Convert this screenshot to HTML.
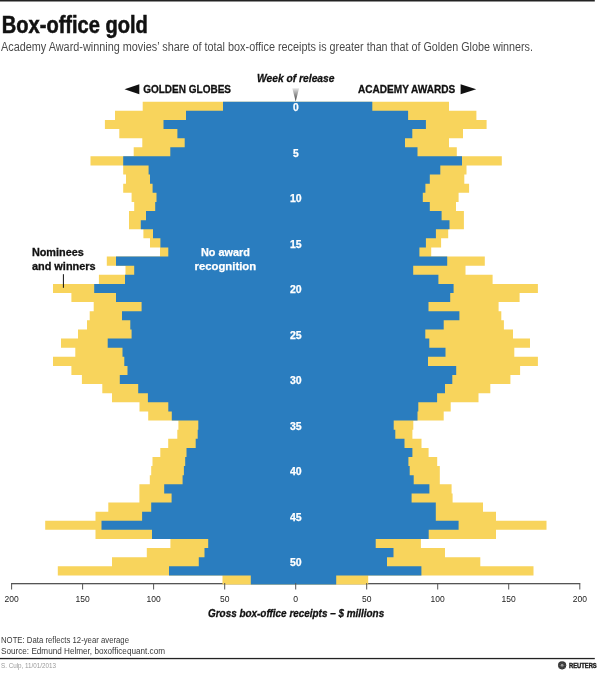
<!DOCTYPE html>
<html lang="en">
<head>
<meta charset="utf-8">
<title>Box-office gold</title>
<style>
html,body{margin:0;padding:0;background:#fff;}
body{width:611px;height:679px;overflow:hidden;}
svg{display:block;font-family:"Liberation Sans",sans-serif;}
</style>
</head>
<body>
<svg width="611" height="679" viewBox="0 0 611 679">
<rect x="0" y="0" width="611" height="679" fill="#fff"/>
<rect x="0" y="0" width="594.8" height="1.5" fill="#222"/>
<text x="1.8" y="33.4" font-size="23.6" font-weight="bold" font-style="normal" fill="#111" text-anchor="start" textLength="146" lengthAdjust="spacingAndGlyphs" stroke="#111" stroke-width="0.55">Box-office gold</text>
<text x="1" y="51.4" font-size="12" font-weight="normal" font-style="normal" fill="#4a4a4a" text-anchor="start" textLength="315" lengthAdjust="spacingAndGlyphs">Academy Award-winning movies&#8217; share of total box-office receipts</text>
<text x="318.8" y="51.4" font-size="12" font-weight="normal" font-style="normal" fill="#4a4a4a" text-anchor="start" textLength="214.2" lengthAdjust="spacingAndGlyphs">is greater than that of Golden Globe winners.</text>
<text x="257" y="81.5" font-size="11.5" font-weight="bold" font-style="italic" fill="#111" text-anchor="start" textLength="77.5" lengthAdjust="spacingAndGlyphs" stroke="#111" stroke-width="0.3">Week of release</text>
<defs><linearGradient id="pg" x1="0" y1="0" x2="0" y2="1"><stop offset="0" stop-color="#e4e4e4"/><stop offset="1" stop-color="#3a3a3a"/></linearGradient></defs>
<polygon points="292.3,88.3 299.1,88.3 295.7,101.6" fill="url(#pg)"/>
<polygon points="124.5,89.3 139.3,84.3 139.3,94.3" fill="#111"/>
<text x="143.2" y="93.4" font-size="11" font-weight="bold" font-style="normal" fill="#111" text-anchor="start" textLength="87.8" lengthAdjust="spacingAndGlyphs" stroke="#111" stroke-width="0.3">GOLDEN GLOBES</text>
<text x="358" y="93.4" font-size="11" font-weight="bold" font-style="normal" fill="#111" text-anchor="start" textLength="97.3" lengthAdjust="spacingAndGlyphs" stroke="#111" stroke-width="0.3">ACADEMY AWARDS</text>
<polygon points="476.2,89.3 460.6,84.3 460.6,94.3" fill="#111"/>
<rect x="11.1" y="583" width="569" height="1.3" fill="#555"/>
<g fill="#f8d45c">
<path d="M142.7,101.70 L142.7,110.81 L115.0,110.81 L115.0,119.92 L104.9,119.92 L104.9,129.03 L119.3,129.03 L119.3,138.14 L142.3,138.14 L142.3,147.25 L133.7,147.25 L133.7,156.36 L90.5,156.36 L90.5,165.47 L123.2,165.47 L123.2,174.58 L126.0,174.58 L126.0,183.69 L123.2,183.69 L123.2,192.80 L131.6,192.80 L131.6,201.91 L134.2,201.91 L134.2,211.02 L129.0,211.02 L129.0,220.13 L129.0,220.13 L129.0,229.24 L143.4,229.24 L143.4,238.35 L150.0,238.35 L150.0,247.46 L160.0,247.46 L160.0,256.57 L106.8,256.57 L106.8,265.68 L125.5,265.68 L125.5,274.79 L98.9,274.79 L98.9,283.90 L53.0,283.90 L53.0,293.01 L71.4,293.01 L71.4,302.12 L93.7,302.12 L93.7,311.23 L89.7,311.23 L89.7,320.34 L87.0,320.34 L87.0,329.45 L78.0,329.45 L78.0,338.56 L61.0,338.56 L61.0,347.67 L75.3,347.67 L75.3,356.78 L53.0,356.78 L53.0,365.89 L71.4,365.89 L71.4,375.00 L81.9,375.00 L81.9,384.11 L102.3,384.11 L102.3,393.22 L112.0,393.22 L112.0,402.33 L139.5,402.33 L139.5,411.44 L148.2,411.44 L148.2,420.55 L178.4,420.55 L178.4,429.66 L177.3,429.66 L177.3,438.77 L168.2,438.77 L168.2,447.88 L160.3,447.88 L160.3,456.99 L152.5,456.99 L152.5,466.10 L151.2,466.10 L151.2,475.21 L149.8,475.21 L149.8,484.32 L139.4,484.32 L139.4,493.43 L139.4,493.43 L139.4,502.54 L108.3,502.54 L108.3,511.65 L95.5,511.65 L95.5,520.76 L45.2,520.76 L45.2,529.87 L95.5,529.87 L95.5,538.98 L170.4,538.98 L170.4,548.09 L146.8,548.09 L146.8,557.20 L112.0,557.20 L112.0,566.31 L57.8,566.31 L57.8,575.42 L222.5,575.42 L222.5,584.53 L368.2,584.53 L368.2,575.42 L533.5,575.42 L533.5,566.31 L480.3,566.31 L480.3,557.20 L445.0,557.20 L445.0,548.09 L420.9,548.09 L420.9,538.98 L496.0,538.98 L496.0,529.87 L546.5,529.87 L546.5,520.76 L496.0,520.76 L496.0,511.65 L483.0,511.65 L483.0,502.54 L452.6,502.54 L452.6,493.43 L451.6,493.43 L451.6,484.32 L439.8,484.32 L439.8,475.21 L439.8,475.21 L439.8,466.10 L437.2,466.10 L437.2,456.99 L428.6,456.99 L428.6,447.88 L421.5,447.88 L421.5,438.77 L412.4,438.77 L412.4,429.66 L413.3,429.66 L413.3,420.55 L443.7,420.55 L443.7,411.44 L450.7,411.44 L450.7,402.33 L478.5,402.33 L478.5,393.22 L490.3,393.22 L490.3,384.11 L510.4,384.11 L510.4,375.00 L520.1,375.00 L520.1,365.89 L537.9,365.89 L537.9,356.78 L514.3,356.78 L514.3,347.67 L530.0,347.67 L530.0,338.56 L513.0,338.56 L513.0,329.45 L503.9,329.45 L503.9,320.34 L501.3,320.34 L501.3,311.23 L498.6,311.23 L498.6,302.12 L519.6,302.12 L519.6,293.01 L537.9,293.01 L537.9,283.90 L492.6,283.90 L492.6,274.79 L465.5,274.79 L465.5,265.68 L484.8,265.68 L484.8,256.57 L431.2,256.57 L431.2,247.46 L441.1,247.46 L441.1,238.35 L448.2,238.35 L448.2,229.24 L463.9,229.24 L463.9,220.13 L463.9,220.13 L463.9,211.02 L456.0,211.02 L456.0,201.91 L458.6,201.91 L458.6,192.80 L469.1,192.80 L469.1,183.69 L464.3,183.69 L464.3,174.58 L466.5,174.58 L466.5,165.47 L501.8,165.47 L501.8,156.36 L456.8,156.36 L456.8,147.25 L449.0,147.25 L449.0,138.14 L463.0,138.14 L463.0,129.03 L486.6,129.03 L486.6,119.92 L476.4,119.92 L476.4,110.81 L449.0,110.81 L449.0,101.70Z"/>
</g>
<g fill="#2a7dbf">
<path d="M223.0,101.70 L223.0,110.81 L186.0,110.81 L186.0,119.92 L163.5,119.92 L163.5,129.03 L177.4,129.03 L177.4,138.14 L184.7,138.14 L184.7,147.25 L170.3,147.25 L170.3,156.36 L123.2,156.36 L123.2,165.47 L148.6,165.47 L148.6,174.58 L150.0,174.58 L150.0,183.69 L152.6,183.69 L152.6,192.80 L156.5,192.80 L156.5,201.91 L155.2,201.91 L155.2,211.02 L146.0,211.02 L146.0,220.13 L140.8,220.13 L140.8,229.24 L153.0,229.24 L153.0,238.35 L160.4,238.35 L160.4,247.46 L168.3,247.46 L168.3,256.57 L116.0,256.57 L116.0,265.68 L134.2,265.68 L134.2,274.79 L125.0,274.79 L125.0,283.90 L94.2,283.90 L94.2,293.01 L116.0,293.01 L116.0,302.12 L141.6,302.12 L141.6,311.23 L122.0,311.23 L122.0,320.34 L130.3,320.34 L130.3,329.45 L131.6,329.45 L131.6,338.56 L107.7,338.56 L107.7,347.67 L122.5,347.67 L122.5,356.78 L124.3,356.78 L124.3,365.89 L127.5,365.89 L127.5,375.00 L119.8,375.00 L119.8,384.11 L138.2,384.11 L138.2,393.22 L147.9,393.22 L147.9,402.33 L168.3,402.33 L168.3,411.44 L171.8,411.44 L171.8,420.55 L198.3,420.55 L198.3,429.66 L197.7,429.66 L197.7,438.77 L195.7,438.77 L195.7,447.88 L186.5,447.88 L186.5,456.99 L185.2,456.99 L185.2,466.10 L183.9,466.10 L183.9,475.21 L182.6,475.21 L182.6,484.32 L164.2,484.32 L164.2,493.43 L171.6,493.43 L171.6,502.54 L151.2,502.54 L151.2,511.65 L142.1,511.65 L142.1,520.76 L101.5,520.76 L101.5,529.87 L152.0,529.87 L152.0,538.98 L208.2,538.98 L208.2,548.09 L204.5,548.09 L204.5,557.20 L198.8,557.20 L198.8,566.31 L169.0,566.31 L169.0,575.42 L250.8,575.42 L250.8,584.53 L336.2,584.53 L336.2,575.42 L421.4,575.42 L421.4,566.31 L387.0,566.31 L387.0,557.20 L393.5,557.20 L393.5,548.09 L375.7,548.09 L375.7,538.98 L428.7,538.98 L428.7,529.87 L458.6,529.87 L458.6,520.76 L435.8,520.76 L435.8,511.65 L435.8,511.65 L435.8,502.54 L411.6,502.54 L411.6,493.43 L429.4,493.43 L429.4,484.32 L413.7,484.32 L413.7,475.21 L409.7,475.21 L409.7,466.10 L408.4,466.10 L408.4,456.99 L412.4,456.99 L412.4,447.88 L404.5,447.88 L404.5,438.77 L395.3,438.77 L395.3,429.66 L393.7,429.66 L393.7,420.55 L417.5,420.55 L417.5,411.44 L418.3,411.44 L418.3,402.33 L437.1,402.33 L437.1,393.22 L445.0,393.22 L445.0,384.11 L452.3,384.11 L452.3,375.00 L456.2,375.00 L456.2,365.89 L428.0,365.89 L428.0,356.78 L445.5,356.78 L445.5,347.67 L429.3,347.67 L429.3,338.56 L425.3,338.56 L425.3,329.45 L443.7,329.45 L443.7,320.34 L459.4,320.34 L459.4,311.23 L428.5,311.23 L428.5,302.12 L450.2,302.12 L450.2,293.01 L453.6,293.01 L453.6,283.90 L438.4,283.90 L438.4,274.79 L413.2,274.79 L413.2,265.68 L447.2,265.68 L447.2,256.57 L419.4,256.57 L419.4,247.46 L425.9,247.46 L425.9,238.35 L435.9,238.35 L435.9,229.24 L449.5,229.24 L449.5,220.13 L441.6,220.13 L441.6,211.02 L429.8,211.02 L429.8,201.91 L422.8,201.91 L422.8,192.80 L425.4,192.80 L425.4,183.69 L429.8,183.69 L429.8,174.58 L440.3,174.58 L440.3,165.47 L462.0,165.47 L462.0,156.36 L417.5,156.36 L417.5,147.25 L405.0,147.25 L405.0,138.14 L412.3,138.14 L412.3,129.03 L425.9,129.03 L425.9,119.92 L408.1,119.92 L408.1,110.81 L372.3,110.81 L372.3,101.70Z"/>
</g>
<text x="292.9" y="111.3" font-size="10.2" font-weight="bold" font-style="normal" fill="#fff" text-anchor="start" textLength="5.7" lengthAdjust="spacingAndGlyphs" stroke="#fff" stroke-width="0.25">0</text>
<text x="292.9" y="156.8" font-size="10.2" font-weight="bold" font-style="normal" fill="#fff" text-anchor="start" textLength="5.7" lengthAdjust="spacingAndGlyphs" stroke="#fff" stroke-width="0.25">5</text>
<text x="289.9" y="202.3" font-size="10.2" font-weight="bold" font-style="normal" fill="#fff" text-anchor="start" textLength="11.7" lengthAdjust="spacingAndGlyphs" stroke="#fff" stroke-width="0.25">10</text>
<text x="289.9" y="247.8" font-size="10.2" font-weight="bold" font-style="normal" fill="#fff" text-anchor="start" textLength="11.7" lengthAdjust="spacingAndGlyphs" stroke="#fff" stroke-width="0.25">15</text>
<text x="289.9" y="293.3" font-size="10.2" font-weight="bold" font-style="normal" fill="#fff" text-anchor="start" textLength="11.7" lengthAdjust="spacingAndGlyphs" stroke="#fff" stroke-width="0.25">20</text>
<text x="289.9" y="338.8" font-size="10.2" font-weight="bold" font-style="normal" fill="#fff" text-anchor="start" textLength="11.7" lengthAdjust="spacingAndGlyphs" stroke="#fff" stroke-width="0.25">25</text>
<text x="289.9" y="384.3" font-size="10.2" font-weight="bold" font-style="normal" fill="#fff" text-anchor="start" textLength="11.7" lengthAdjust="spacingAndGlyphs" stroke="#fff" stroke-width="0.25">30</text>
<text x="289.9" y="429.8" font-size="10.2" font-weight="bold" font-style="normal" fill="#fff" text-anchor="start" textLength="11.7" lengthAdjust="spacingAndGlyphs" stroke="#fff" stroke-width="0.25">35</text>
<text x="289.9" y="475.3" font-size="10.2" font-weight="bold" font-style="normal" fill="#fff" text-anchor="start" textLength="11.7" lengthAdjust="spacingAndGlyphs" stroke="#fff" stroke-width="0.25">40</text>
<text x="289.9" y="520.8" font-size="10.2" font-weight="bold" font-style="normal" fill="#fff" text-anchor="start" textLength="11.7" lengthAdjust="spacingAndGlyphs" stroke="#fff" stroke-width="0.25">45</text>
<text x="289.9" y="566.3" font-size="10.2" font-weight="bold" font-style="normal" fill="#fff" text-anchor="start" textLength="11.7" lengthAdjust="spacingAndGlyphs" stroke="#fff" stroke-width="0.25">50</text>
<text x="31.9" y="256.3" font-size="11" font-weight="bold" font-style="normal" fill="#111" text-anchor="start" textLength="51.9" lengthAdjust="spacingAndGlyphs" stroke="#111" stroke-width="0.3">Nominees</text>
<text x="31.9" y="270" font-size="11" font-weight="bold" font-style="normal" fill="#111" text-anchor="start" textLength="63.8" lengthAdjust="spacingAndGlyphs" stroke="#111" stroke-width="0.3">and winners</text>
<rect x="62.9" y="274.2" width="1" height="13.6" fill="#111"/>
<text x="200.9" y="256.3" font-size="11" font-weight="bold" font-style="normal" fill="#fff" text-anchor="start" textLength="48.9" lengthAdjust="spacingAndGlyphs" stroke="#fff" stroke-width="0.25">No award</text>
<text x="194.5" y="270" font-size="11" font-weight="bold" font-style="normal" fill="#fff" text-anchor="start" textLength="61.7" lengthAdjust="spacingAndGlyphs" stroke="#fff" stroke-width="0.25">recognition</text>
<rect x="11.1" y="583" width="1" height="6.5" fill="#555"/>
<rect x="82.1" y="583" width="1" height="6.5" fill="#555"/>
<rect x="153.1" y="583" width="1" height="6.5" fill="#555"/>
<rect x="224.2" y="583" width="1" height="6.5" fill="#555"/>
<rect x="295.2" y="583" width="1" height="6.5" fill="#555"/>
<rect x="366.2" y="583" width="1" height="6.5" fill="#555"/>
<rect x="437.2" y="583" width="1" height="6.5" fill="#555"/>
<rect x="508.2" y="583" width="1" height="6.5" fill="#555"/>
<rect x="579.3" y="583" width="1" height="6.5" fill="#555"/>
<text x="4.5" y="601.6" font-size="9.4" font-weight="normal" font-style="normal" fill="#222" text-anchor="start" textLength="14.2" lengthAdjust="spacingAndGlyphs">200</text>
<text x="75.5" y="601.6" font-size="9.4" font-weight="normal" font-style="normal" fill="#222" text-anchor="start" textLength="14.2" lengthAdjust="spacingAndGlyphs">150</text>
<text x="146.5" y="601.6" font-size="9.4" font-weight="normal" font-style="normal" fill="#222" text-anchor="start" textLength="14.2" lengthAdjust="spacingAndGlyphs">100</text>
<text x="219.9" y="601.6" font-size="9.4" font-weight="normal" font-style="normal" fill="#222" text-anchor="start" textLength="9.5" lengthAdjust="spacingAndGlyphs">50</text>
<text x="293.3" y="601.6" font-size="9.4" font-weight="normal" font-style="normal" fill="#222" text-anchor="start" textLength="4.8" lengthAdjust="spacingAndGlyphs">0</text>
<text x="361.9" y="601.6" font-size="9.4" font-weight="normal" font-style="normal" fill="#222" text-anchor="start" textLength="9.5" lengthAdjust="spacingAndGlyphs">50</text>
<text x="430.6" y="601.6" font-size="9.4" font-weight="normal" font-style="normal" fill="#222" text-anchor="start" textLength="14.2" lengthAdjust="spacingAndGlyphs">100</text>
<text x="501.6" y="601.6" font-size="9.4" font-weight="normal" font-style="normal" fill="#222" text-anchor="start" textLength="14.2" lengthAdjust="spacingAndGlyphs">150</text>
<text x="572.7" y="601.6" font-size="9.4" font-weight="normal" font-style="normal" fill="#222" text-anchor="start" textLength="14.2" lengthAdjust="spacingAndGlyphs">200</text>
<text x="208" y="616.8" font-size="11" font-weight="bold" font-style="italic" fill="#111" text-anchor="start" textLength="176.2" lengthAdjust="spacingAndGlyphs" stroke="#111" stroke-width="0.3">Gross box-office receipts &#8211; $ millions</text>
<text x="1" y="642.6" font-size="9.5" font-weight="normal" font-style="normal" fill="#3a3a3a" text-anchor="start" textLength="128" lengthAdjust="spacingAndGlyphs">NOTE: Data reflects 12-year average</text>
<text x="1" y="654" font-size="9.5" font-weight="normal" font-style="normal" fill="#3a3a3a" text-anchor="start" textLength="164" lengthAdjust="spacingAndGlyphs">Source: Edmund Helmer, boxofficequant.com</text>
<rect x="0" y="657.9" width="594.8" height="1.3" fill="#222"/>
<text x="1" y="667.6" font-size="6.3" font-weight="normal" font-style="normal" fill="#9a9a9a" text-anchor="start" textLength="55" lengthAdjust="spacingAndGlyphs">S. Culp, 11/01/2013</text>
<g>
<circle cx="562.1" cy="665.3" r="4.1" fill="#333"/>
<circle cx="562.1" cy="665.3" r="1.3" fill="#b5b5b5"/>
<g stroke="#888" stroke-width="0.35">
<line x1="562.1" y1="661" x2="562.1" y2="669.6"/>
<line x1="557.8" y1="665.3" x2="566.4" y2="665.3"/>
<line x1="559.1" y1="662.3" x2="565.1" y2="668.3"/>
<line x1="559.1" y1="668.3" x2="565.1" y2="662.3"/>
</g>
<text x="569" y="667.6" font-size="6.6" font-weight="bold" font-style="normal" fill="#222" text-anchor="start" textLength="27.7" lengthAdjust="spacingAndGlyphs" stroke="#222" stroke-width="0.4">REUTERS</text>
</g>
</svg>
</body>
</html>
